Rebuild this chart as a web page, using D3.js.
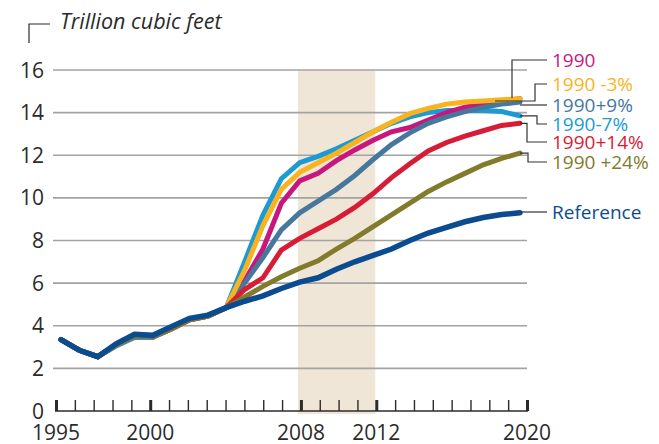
<!DOCTYPE html>
<html>
<head>
<meta charset="utf-8">
<script src="https://cdn.jsdelivr.net/npm/d3@7"></script>
<style>
  html, body { margin: 0; padding: 0; background: #fff; }
  svg text { font-family: "Open Sans", "DejaVu Sans", sans-serif; }
</style>
</head>
<body>
<div id="chart"></div>
<script>
  "use strict";

  // -- data --
  var years = [1995, 1996, 1997, 1998, 1999, 2000, 2001, 2002, 2003, 2004,
               2005, 2006, 2007, 2008, 2009, 2010, 2011, 2012, 2013, 2014,
               2015, 2016, 2017, 2018, 2019, 2020];

  var reference = [3.35, 2.85, 2.55, 3.15, 3.6, 3.55, 3.95, 4.35, 4.5, 4.85,
                   5.15, 5.4, 5.75, 6.05, 6.25, 6.65, 7.0, 7.3, 7.6, 8.0,
                   8.35, 8.62, 8.88, 9.08, 9.22, 9.3];
  var plus24 = [3.35, 2.85, 2.55, 3.1, 3.52, 3.48, 3.85, 4.28, 4.45, 4.85,
                5.35, 5.85, 6.3, 6.7, 7.05, 7.6, 8.1, 8.65, 9.2, 9.75,
                10.3, 10.75, 11.15, 11.55, 11.85, 12.1];
  var plus14 = [3.35, 2.85, 2.55, 3.1, 3.52, 3.48, 3.85, 4.28, 4.45, 4.85,
                5.7, 6.25, 7.55, 8.1, 8.55, 9.0, 9.55, 10.2, 10.95, 11.6,
                12.2, 12.6, 12.9, 13.15, 13.4, 13.5];
  var plus9 = [3.35, 2.85, 2.55, 3.1, 3.52, 3.48, 3.85, 4.28, 4.45, 4.85,
               6.0, 7.2, 8.5, 9.3, 9.85, 10.4, 11.05, 11.8, 12.5, 13.05,
               13.5, 13.8, 14.05, 14.25, 14.4, 14.5];
  var base1990 = [3.35, 2.85, 2.55, 3.1, 3.52, 3.48, 3.85, 4.28, 4.45, 4.85,
                  6.1, 7.6, 9.75, 10.8, 11.15, 11.75, 12.25, 12.7, 13.1, 13.3,
                  13.65, 14.0, 14.25, 14.4, 14.55, 14.65];
  var minus3 = [3.35, 2.85, 2.55, 3.1, 3.52, 3.48, 3.85, 4.28, 4.45, 4.85,
                6.6, 8.7, 10.4, 11.2, 11.65, 12.1, 12.6, 13.1, 13.55, 13.95,
                14.2, 14.4, 14.5, 14.55, 14.6, 14.65];
  var minus7 = [3.35, 2.85, 2.55, 3.05, 3.45, 3.45, 3.85, 4.3, 4.45, 4.85,
                7.0, 9.2, 10.9, 11.65, 11.95, 12.3, 12.7, 13.1, 13.5, 13.8,
                14.0, 14.1, 14.1, 14.1, 14.05, 13.85];

  var yTicks = [0, 2, 4, 6, 8, 10, 12, 14, 16];
  var xLabels = [1995, 2000, 2008, 2012, 2020];
  var shadeYears = [2008, 2012];

  // draw order: bottom first
  var series = [
    {name: "1990-7%",   values: minus7,    color: "#1b9ad4"},
    {name: "1990",      values: base1990,  color: "#c8177c"},
    {name: "1990+9%",   values: plus9,     color: "#46789e"},
    {name: "1990 -3%",  values: minus3,    color: "#f9b31d"},
    {name: "1990+14%",  values: plus14,    color: "#d71d36"},
    {name: "1990 +24%", values: plus24,    color: "#817b2b"},
    {name: "Reference", values: reference, color: "#0b4c91"}
  ];

  // label layout: y of label, x of elbow (null = straight)
  var labelLayout = {
    "1990":      {ly: 60,  elbow: 512, fromX: 512, fromY: 98},
    "1990 -3%":  {ly: 84,  elbow: 535, fromX: 495, fromY: 101},
    "1990+9%":   {ly: 105, elbow: null},
    "1990-7%":   {ly: 124, elbow: 537},
    "1990+14%":  {ly: 142, elbow: 527},
    "1990 +24%": {ly: 162, elbow: 528},
    "Reference": {ly: 212, elbow: null}
  };

  var width = 659, height = 444;

  var svg = d3.select("#chart").append("svg")
      .attr("width", width)
      .attr("height", height);

  var x = d3.scaleLinear().domain([1995, 2020]).range([56, 527]);
  var xData = d3.scaleLinear().domain([1995, 2020]).range([61, 520]);
  var y = d3.scaleLinear().domain([0, 16]).range([411, 70]);

  // shaded 2008-2012
  svg.append("rect")
      .attr("x", x(shadeYears[0]) - 3)
      .attr("y", y(16))
      .attr("width", x(shadeYears[1]) - x(shadeYears[0]) + 2)
      .attr("height", y(0) - y(16) + 3)
      .attr("fill", "#efe6d7");

  // gridlines
  svg.append("g").selectAll("line")
      .data(yTicks.filter(function (d) { return d > 0; }))
      .enter().append("line")
      .attr("x1", 53).attr("x2", 527)
      .attr("y1", function (d) { return y(d); })
      .attr("y2", function (d) { return y(d); })
      .attr("stroke", "#a3a3a3")
      .attr("stroke-width", 1.6);

  // y labels
  svg.append("g").selectAll("text")
      .data(yTicks)
      .enter().append("text")
      .attr("x", 44)
      .attr("y", function (d) { return y(d); })
      .attr("dy", "0.36em")
      .attr("text-anchor", "end")
      .attr("font-size", 21)
      .attr("fill", "#2b2b2b")
      .text(function (d) { return d; });

  // x axis
  var xAxis = d3.axisBottom(x)
      .tickValues(d3.range(1995, 2021))
      .tickSize(11)
      .tickFormat("");
  var gx = svg.append("g")
      .attr("transform", "translate(0," + (y(0) - 11) + ")")
      .call(xAxis);
  gx.select(".domain").remove();
  gx.selectAll(".tick line")
      .attr("stroke", "#2b2b2b")
      .attr("stroke-width", function (d) { return xLabels.indexOf(d) >= 0 ? 3 : 1.4; });
  svg.append("line")
      .attr("x1", x(1995) - 1).attr("x2", x(2020) + 1)
      .attr("y1", y(0)).attr("y2", y(0))
      .attr("stroke", "#2b2b2b")
      .attr("stroke-width", 1.6);

  svg.append("g").selectAll("text")
      .data(xLabels)
      .enter().append("text")
      .attr("x", function (d) { return x(d); })
      .attr("y", 440)
      .attr("text-anchor", "middle")
      .attr("font-size", 21)
      .attr("fill", "#2b2b2b")
      .text(function (d) { return d; });

  // title
  svg.append("path")
      .attr("d", "M29,43V24H50")
      .attr("fill", "none")
      .attr("stroke", "#2b2b2b")
      .attr("stroke-width", 1.2);
  svg.append("text")
      .attr("x", 60)
      .attr("y", 29)
      .attr("font-size", 21.5)
      .attr("font-style", "italic")
      .attr("fill", "#2b2b2b")
      .text("Trillion cubic feet");

  // lines
  var line = d3.line()
      .x(function (d, i) { return xData(years[i]); })
      .y(function (d) { return y(d); });

  svg.append("g").selectAll("path")
      .data(series)
      .enter().append("path")
      .attr("d", function (s) { return line(s.values); })
      .attr("fill", "none")
      .attr("stroke", function (s) { return s.color; })
      .attr("stroke-width", function (s) { return s.name === "Reference" ? 5.5 : 5; })
      .attr("stroke-linejoin", "miter")
      .attr("stroke-linecap", "round");

  // leaders + labels
  var labelX = 552, leaderEnd = 547;
  series.forEach(function (s) {
    var L = labelLayout[s.name];
    var last = s.values[s.values.length - 1];
    var sx = L.fromX !== undefined ? L.fromX : xData(2020);
    var sy = L.fromY !== undefined ? L.fromY : y(last);
    var d;
    if (L.elbow === null) {
      d = "M" + sx + "," + sy + "L" + (sx + 8) + "," + sy + "L" + leaderEnd + "," + L.ly;
      if (Math.abs(sy - L.ly) < 4) d = "M" + sx + "," + L.ly + "H" + leaderEnd;
    } else if (L.fromX !== undefined && L.elbow === L.fromX) {
      d = "M" + sx + "," + sy + "V" + L.ly + "H" + leaderEnd;
    } else {
      d = "M" + sx + "," + sy + "H" + L.elbow + "V" + L.ly + "H" + leaderEnd;
    }
    svg.append("path")
        .attr("d", d)
        .attr("fill", "none")
        .attr("stroke", "#333")
        .attr("stroke-width", 1.2);
    svg.append("text")
        .attr("x", labelX)
        .attr("y", L.ly)
        .attr("dy", "0.36em")
        .attr("font-size", 19)
        .attr("fill", s.color)
        .text(s.name);
  });
</script>
</body>
</html>
